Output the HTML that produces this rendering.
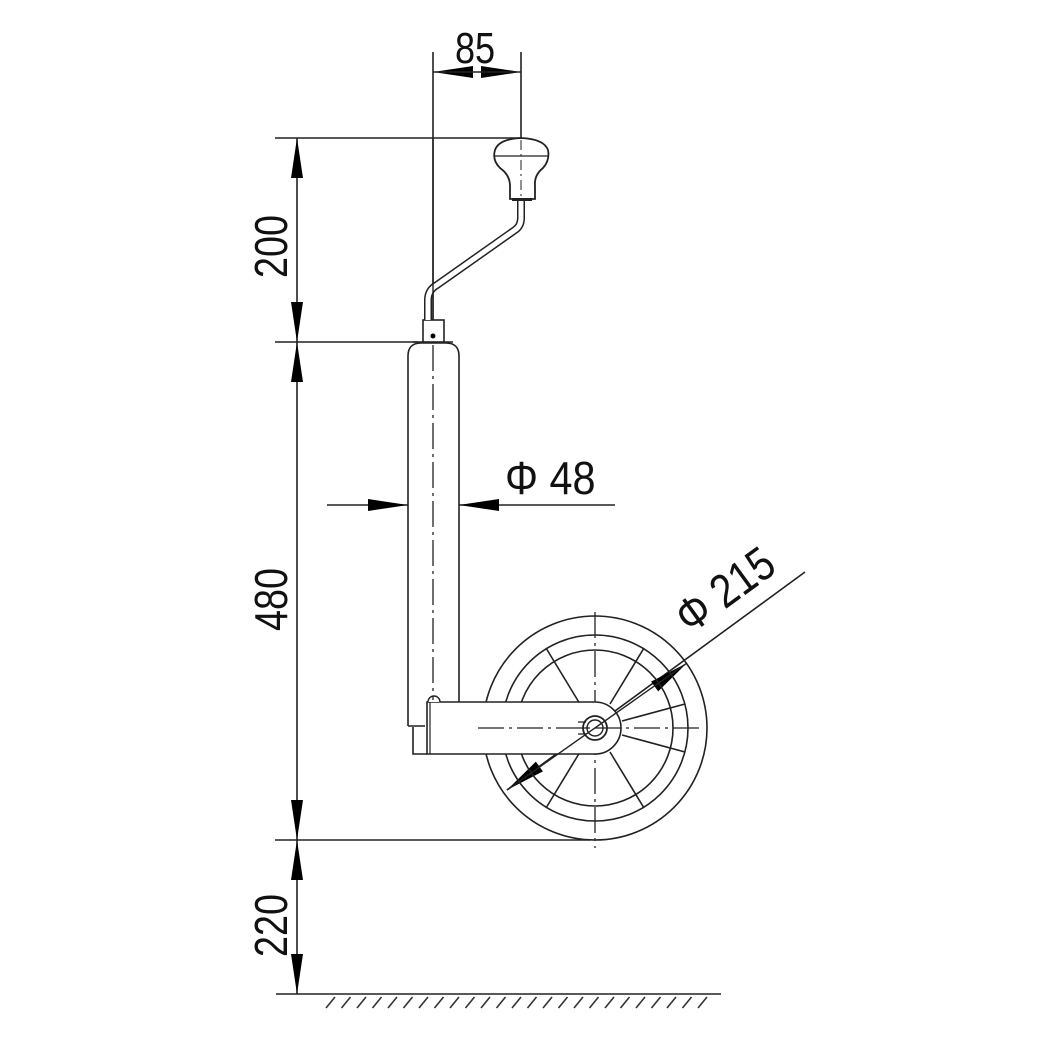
<!DOCTYPE html>
<html><head><style>
html,body{margin:0;padding:0;background:#fff;}
svg{display:block;}
text{font-family:"Liberation Sans",sans-serif;fill:#111;}
</style></head><body>
<svg width="1059" height="1057" viewBox="0 0 1059 1057" xmlns="http://www.w3.org/2000/svg">
<g stroke="#222" stroke-width="1.6" fill="none">
<line x1="275" y1="138" x2="521" y2="138"/>
<line x1="275" y1="342" x2="418" y2="342"/>
<line x1="275" y1="840" x2="590" y2="840"/>
<line x1="276" y1="994" x2="721" y2="994"/>
<line x1="297" y1="138" x2="297" y2="994"/>
<line x1="433" y1="52" x2="433" y2="320"/>
<line x1="521" y1="52" x2="521" y2="140"/>
<line x1="327" y1="505" x2="615" y2="505"/>
<line x1="507" y1="790" x2="805" y2="572"/>
</g>
<g fill="#000">
<path d="M297,138 l-6,40 h12z"/><path d="M297,342 l-6,-40 h12z"/>
<path d="M297,342 l-6,40 h12z"/><path d="M297,840 l-6,-40 h12z"/>
<path d="M297,840 l-6,40 h12z"/><path d="M297,994 l-6,-40 h12z"/>
<path d="M433,72 l40,-6 v12z"/><path d="M521,72 l-40,-6 v12z"/>
<path d="M408,505 l-40,-6 v12z"/><path d="M459,505 l40,-6 v12z"/>
<g transform="translate(687,663) rotate(-36)"><path d="M0,0 l-40,-6 v12z"/></g>
<g transform="translate(507,790) rotate(-36)"><path d="M0,0 l40,-6 v12z"/></g>
</g>
<line x1="433" y1="72" x2="521" y2="72" stroke="#222" stroke-width="1.4"/>
<g stroke="#333" stroke-width="1.6">
<path d="M326,1008 l9,-11 M341.5,1008 l9,-11 M357,1008 l9,-11 M372.5,1008 l9,-11 M388,1008 l9,-11 M403.5,1008 l9,-11 M419,1008 l9,-11 M434.5,1008 l9,-11 M450,1008 l9,-11 M465.5,1008 l9,-11 M481,1008 l9,-11 M496.5,1008 l9,-11 M512,1008 l9,-11 M527.5,1008 l9,-11 M543,1008 l9,-11 M558.5,1008 l9,-11 M574,1008 l9,-11 M589.5,1008 l9,-11 M605,1008 l9,-11 M620.5,1008 l9,-11 M636,1008 l9,-11 M651.5,1008 l9,-11 M667,1008 l9,-11 M682.5,1008 l9,-11 M698,1008 l9,-11"/>
</g>
<g stroke="#222" stroke-width="1.6" fill="none">
<circle cx="595" cy="728" r="112"/>
<circle cx="595" cy="728" r="93"/>
<circle cx="595" cy="728" r="78"/>
<line x1="622" y1="721" x2="685" y2="704"/>
<line x1="610" y1="704" x2="644" y2="648"/>
<line x1="580" y1="704" x2="546" y2="648"/>
<line x1="622" y1="735" x2="685" y2="752"/>
<line x1="610" y1="752" x2="644" y2="808"/>
<line x1="580" y1="752" x2="546" y2="808"/>
<line x1="568" y1="735" x2="505" y2="752"/>
<line x1="568" y1="721" x2="505" y2="704"/>
</g>
<line x1="595" y1="612" x2="595" y2="848" stroke="#222" stroke-width="1.3" stroke-dasharray="26,5,3,5"/>
<path d="M408,726 V356 Q408,343 421,343 H446 Q459,343 459,356 V702" fill="#fff" stroke="#222" stroke-width="1.6"/>
<line x1="413" y1="342" x2="453" y2="342" stroke="#222" stroke-width="1.6"/>
<path d="M408,726 H425" stroke="#222" stroke-width="1.6"/>
<path d="M413,727 V754 H427" fill="none" stroke="#222" stroke-width="1.6"/>
<path d="M427,702 H595 A26,26 0 0 1 595,754 H427 Z" fill="#fff" stroke="#222" stroke-width="1.6"/>
<line x1="430" y1="702" x2="430" y2="754" stroke="#222" stroke-width="1.2"/>
<path d="M428,702 A6,6 0 0 1 440,702" fill="#fff" stroke="#222" stroke-width="1.4"/>
<circle cx="595" cy="728" r="12" fill="#fff" stroke="#222" stroke-width="1.8"/>
<circle cx="595" cy="728" r="8" fill="none" stroke="#222" stroke-width="1.4"/>
<path d="M578,722 h8 M578,734 h8 M582,728 h6" stroke="#222" stroke-width="1.2"/>
<line x1="507" y1="790" x2="687" y2="663" stroke="#222" stroke-width="1.4"/>
<line x1="478" y1="728" x2="700" y2="728" stroke="#222" stroke-width="1.3" stroke-dasharray="26,5,3,5"/>
<line x1="433" y1="345" x2="433" y2="700" stroke="#222" stroke-width="1.3" stroke-dasharray="26,5,3,5"/>
<rect x="423" y="320" width="21" height="22" fill="#fff" stroke="#222" stroke-width="1.6"/>
<circle cx="433" cy="336" r="2.5" fill="#000"/>
<path d="M428,320 V300 Q428,290 437,285 L515,230 Q521,226 521,218 V200" fill="none" stroke="#222" stroke-width="8" stroke-linejoin="round"/>
<path d="M428,320 V300 Q428,290 437,285 L515,230 Q521,226 521,218 V200" fill="none" stroke="#fff" stroke-width="5" stroke-linejoin="round"/>
<line x1="433" y1="138" x2="433" y2="320" stroke="#222" stroke-width="1.4"/>
<path d="M510,199 V186 Q510,175 500,168 Q492,160 495,150 Q499,139 521,138 Q544,139 548,150 Q550,160 543,168 Q534,175 535,186 V199 Z" fill="#fff" stroke="#222" stroke-width="1.8"/>
<line x1="495" y1="156" x2="548" y2="156" stroke="#222" stroke-width="1.2"/>
<rect x="512" y="198" width="20" height="3" fill="#222"/>
<line x1="521" y1="140" x2="521" y2="200" stroke="#222" stroke-width="1" stroke-dasharray="10,4,2,4"/>
<text transform="translate(287,278) rotate(-90) scale(0.82,1)" font-size="46">200</text>
<text transform="translate(287,631) rotate(-90) scale(0.82,1)" font-size="46">480</text>
<text transform="translate(287,957) rotate(-90) scale(0.82,1)" font-size="46">220</text>
<text transform="translate(455,63) scale(0.82,1)" font-size="44">85</text>
<text transform="translate(505,494) scale(0.9,1)" font-size="46">Φ 48</text>
<text transform="translate(690,635) rotate(-36) scale(0.85,1)" font-size="47">Φ 215</text>
</svg>
</body></html>
